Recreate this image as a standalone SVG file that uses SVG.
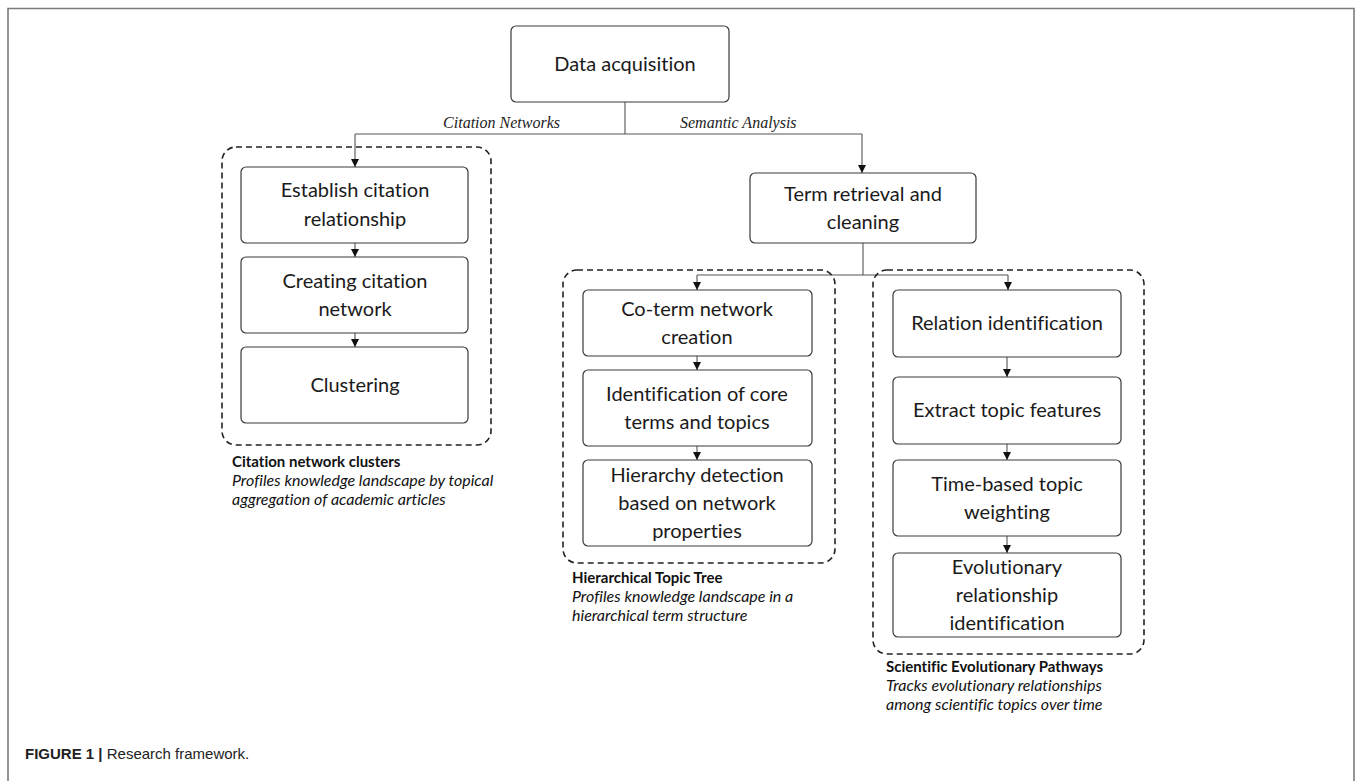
<svg xmlns="http://www.w3.org/2000/svg" width="1355" height="781" viewBox="0 0 1355 781">
<style>
.bg{fill:#fff}
.frame{fill:none;stroke:#7a7a7a;stroke-width:1.6}
.box{fill:#fff;stroke:#3a3a3a;stroke-width:1.2}
.grp{fill:none;stroke:#222;stroke-width:1.6;stroke-dasharray:6 4}
text{font-variant-ligatures:none}
.t{font-family:Lato,"Open Sans","Liberation Sans",sans-serif;font-size:20px;fill:#1a1a1a;text-anchor:middle}
.lbl{font-family:"Liberation Serif",serif;font-style:italic;font-size:16px;fill:#222}
.ct{font-family:Lato,"Open Sans","Liberation Sans",sans-serif;font-size:15px;font-weight:bold;fill:#111}
.ci{font-family:Lato,"Open Sans","Liberation Sans",sans-serif;font-size:16px;font-style:italic;fill:#111}
.cn line,.cn path{fill:none;stroke:#555;stroke-width:1.1}
.cap{font-family:"Liberation Sans",Arial,sans-serif;font-size:15px;fill:#222}
</style>
<defs>
<marker id="ah" viewBox="0 0 10 10" refX="10" refY="5" markerWidth="8" markerHeight="8" markerUnits="userSpaceOnUse" orient="auto">
<path d="M0,0 L10,5 L0,10 Z" fill="#111"/>
</marker>
</defs>
<rect class="bg" x="0" y="0" width="1355" height="781"/>
<path class="frame" d="M8,781 V8.5 H1354 V781"/>

<g id="connectors" class="cn">
<path d="M625,102 V134"/>
<path d="M355,134 H862"/>
<path d="M355,134 V167" marker-end="url(#ah)"/>
<path d="M862,134 V173" marker-end="url(#ah)"/>
<path d="M355,243 V257" marker-end="url(#ah)"/>
<path d="M355,333 V347" marker-end="url(#ah)"/>
<path d="M863,243 V275"/>
<path d="M697,275 H1008"/>
<path d="M697,275 V290" marker-end="url(#ah)"/>
<path d="M1008,275 V290" marker-end="url(#ah)"/>
<path d="M697,356 V370" marker-end="url(#ah)"/>
<path d="M697,446 V460" marker-end="url(#ah)"/>
<path d="M1007,357 V377" marker-end="url(#ah)"/>
<path d="M1007,444 V460" marker-end="url(#ah)"/>
<path d="M1007,536 V553" marker-end="url(#ah)"/>
<text class="lbl" x="560" y="128" text-anchor="end">Citation Networks</text>
<text class="lbl" x="680" y="128">Semantic Analysis</text>
</g>

<g id="citation-group">
<rect class="grp" x="222" y="147" width="269" height="298" rx="14"/>
<text class="ct" x="232" y="467">Citation network clusters</text>
<text class="ci" x="232" y="486">Profiles knowledge landscape by topical</text>
<text class="ci" x="232" y="505">aggregation of academic articles</text>
</g>
<g id="hierarchical-group">
<rect class="grp" x="563" y="270" width="272" height="293" rx="14"/>
<text class="ct" x="572" y="583">Hierarchical Topic Tree</text>
<text class="ci" x="572" y="602">Profiles knowledge landscape in a</text>
<text class="ci" x="572" y="621">hierarchical term structure</text>
</g>
<g id="evolution-group">
<rect class="grp" x="873" y="270" width="271" height="384" rx="14"/>
<text class="ct" x="886" y="672">Scientific Evolutionary Pathways</text>
<text class="ci" x="886" y="691">Tracks evolutionary relationships</text>
<text class="ci" x="886" y="710">among scientific topics over time</text>
</g>

<g id="data-acquisition">
<rect class="box" x="511" y="26" width="218" height="76" rx="5"/>
<text class="t" x="625" y="71">Data acquisition</text>
</g>
<g id="establish">
<rect class="box" x="241" y="167" width="227" height="76" rx="5"/>
<text class="t" x="355" y="197">Establish citation</text>
<text class="t" x="355" y="226">relationship</text>
</g>
<g id="creating">
<rect class="box" x="241" y="257" width="227" height="76" rx="5"/>
<text class="t" x="355" y="288">Creating citation</text>
<text class="t" x="355" y="316">network</text>
</g>
<g id="clustering">
<rect class="box" x="241" y="347" width="227" height="76" rx="5"/>
<text class="t" x="355" y="392">Clustering</text>
</g>
<g id="term-retrieval">
<rect class="box" x="750" y="173" width="226" height="70" rx="5"/>
<text class="t" x="863" y="201">Term retrieval and</text>
<text class="t" x="863" y="229">cleaning</text>
</g>
<g id="co-term">
<rect class="box" x="583" y="290" width="229" height="66" rx="5"/>
<text class="t" x="697" y="316">Co-term network</text>
<text class="t" x="697" y="344">creation</text>
</g>
<g id="identification">
<rect class="box" x="583" y="370" width="229" height="76" rx="5"/>
<text class="t" x="697" y="401">Identification of core</text>
<text class="t" x="697" y="429">terms and topics</text>
</g>
<g id="hierarchy">
<rect class="box" x="583" y="460" width="229" height="86" rx="5"/>
<text class="t" x="697" y="482">Hierarchy detection</text>
<text class="t" x="697" y="510">based on network</text>
<text class="t" x="697" y="538">properties</text>
</g>
<g id="relation">
<rect class="box" x="893" y="290" width="228" height="67" rx="5"/>
<text class="t" x="1007" y="330">Relation identification</text>
</g>
<g id="extract">
<rect class="box" x="893" y="377" width="228" height="67" rx="5"/>
<text class="t" x="1007" y="417">Extract topic features</text>
</g>
<g id="time-based">
<rect class="box" x="893" y="460" width="228" height="76" rx="5"/>
<text class="t" x="1007" y="491">Time-based topic</text>
<text class="t" x="1007" y="519">weighting</text>
</g>
<g id="evolutionary">
<rect class="box" x="893" y="553" width="228" height="84" rx="5"/>
<text class="t" x="1007" y="574">Evolutionary</text>
<text class="t" x="1007" y="602">relationship</text>
<text class="t" x="1007" y="630">identification</text>
</g>

<text class="cap" x="25" y="759"><tspan font-weight="bold">FIGURE 1 | </tspan>Research framework.</text>
</svg>
